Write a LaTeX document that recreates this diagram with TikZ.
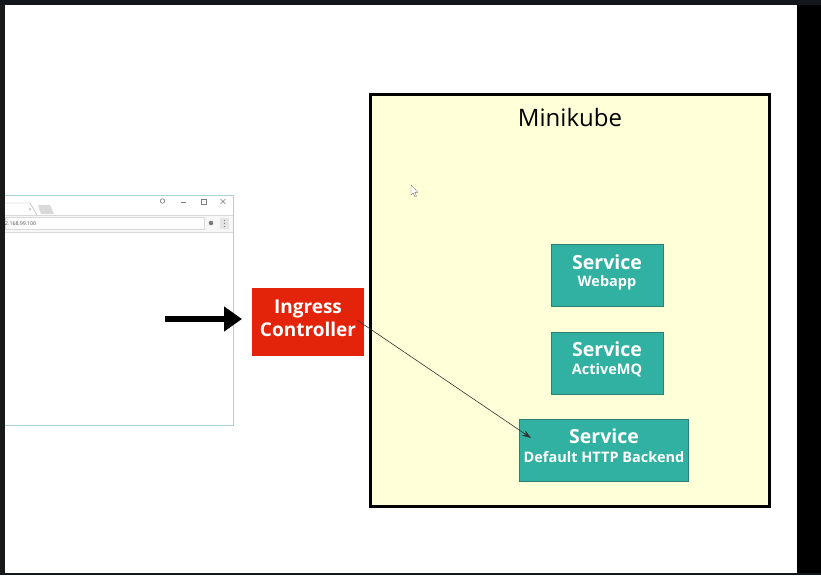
\documentclass[tikz,border=0pt]{standalone}
\usepackage{fontspec}
\setmainfont{Open Sans}
\usetikzlibrary{arrows.meta}
\definecolor{darkbar}{HTML}{13161B}
\definecolor{ingred}{HTML}{E4230B}
\definecolor{svcteal}{HTML}{31B1A1}
\definecolor{svcedge}{HTML}{2B7F74}
\definecolor{kubefill}{HTML}{FFFFD8}
\definecolor{winedge}{HTML}{A9D1D8}
\definecolor{wingrey}{HTML}{D9D9D9}
\definecolor{icongrey}{HTML}{7A7A7A}
\tikzset{
  svcbox/.style={draw=svcedge, line width=0.8pt, fill=svcteal, text=white, align=center, font=\bfseries, inner sep=0pt},
  ingbox/.style={fill=ingred, text=white, align=center, font=\bfseries\fontsize{19}{23}\selectfont, inner sep=0pt, minimum width=112pt, minimum height=68pt},
  kubebox/.style={draw=black, line width=3pt, fill=kubefill, minimum width=399pt, minimum height=411pt, inner sep=0pt},
  bigtxt/.style={font=\fontsize{19.5}{22}\selectfont\bfseries},
  smalltxt/.style={font=\fontsize{14.5}{16}\selectfont\bfseries},
}
\begin{document}
\begin{tikzpicture}[x=1pt,y=-1pt]
\useasboundingbox (0,0) rectangle (821,575);
% screen frame
\fill[white] (0,0) rectangle (821,575);
\fill[darkbar] (0,0) rectangle (821,5);
\fill[black] (797,5) rectangle (821,575);
\fill[black!90] (0,5) rectangle (5,575);
\fill[darkbar] (0,573) rectangle (821,575);

% browser window
\fill[white] (5,195) rectangle (233,425);
\draw[winedge, line width=1pt] (5,195.5) -- (233,195.5) -- (233,425) -- (5,425);
\fill[white!97!black] (5,215) rectangle (233,232);
\fill[white] (5,203) -- (30,203) -- (37,215) -- (5,215) -- cycle;
\draw[wingrey!80!black, line width=0.4pt] (5,203) -- (30,203) -- (37,215);
\fill[wingrey] (38,205) -- (50,205) -- (54,214) -- (41,214) -- cycle;
\node[text=icongrey, font=\fontsize{5}{5}\selectfont, inner sep=0pt] (tabx) at (30,210) {×};
\draw[wingrey, line width=0.5pt] (5,215.5) -- (233,215.5);
\draw[wingrey, fill=white, line width=0.5pt] (5,217.5) rectangle (204,229.5);
\node[anchor=west, text=black!70, font=\fontsize{5.2}{6}\selectfont, inner sep=0pt] (url) at (5,223.5) {2.168.99.100};
\fill[icongrey] (211,223) circle (2.3pt);
\fill[white!90!black] (220,218) rectangle (229,229);
\fill[icongrey] (224.5,220.5) circle (0.6pt) (224.5,223.5) circle (0.6pt) (224.5,226.5) circle (0.6pt);
\draw[wingrey, line width=0.5pt] (5,232) -- (233,232);
\draw[icongrey, line width=0.6pt] (162.5,201) circle (2.2pt);
\draw[icongrey, line width=0.6pt] (181,202) -- (186,202);
\draw[icongrey, line width=0.6pt] (201,199) rectangle (206,204);
\draw[icongrey, line width=0.6pt] (220.5,199) -- (225.5,204) (220.5,204) -- (225.5,199);

% Minikube
\node[kubebox] (kube) at (569.5,300.5) {};
\node[font=\fontsize{24}{28}\selectfont] (kubetitle) at (570,118) {Minikube};

% mouse cursor
\draw[icongrey, fill=white, line width=0.4pt, line join=round] (411,185) -- (411,195) -- (413.3,193) -- (415,197) -- (416.5,196.3) -- (414.8,192.4) -- (418,192.4) -- cycle;

% Ingress controller
\node[ingbox] (ing) at (308,322) {};
\node[text=white, align=center, font=\bfseries\fontsize{19}{23}\selectfont, inner sep=0pt] (ingt) at (308,318) {Ingress\\Controller};

% Services
\node[svcbox, minimum width=112pt, minimum height=62pt] (web) at (607,275) {};
\node[bigtxt, text=white, inner sep=0pt] (webt1) at (607,262) {Service};
\node[smalltxt, text=white, inner sep=0pt] (webt2) at (607,283) {Webapp};

\node[svcbox, minimum width=112pt, minimum height=62pt] (amq) at (607,363) {};
\node[bigtxt, text=white, inner sep=0pt] (amqt1) at (607,349) {Service};
\node[smalltxt, text=white, inner sep=0pt] (amqt2) at (607,370) {ActiveMQ};

\node[svcbox, minimum width=169pt, minimum height=62pt] (def) at (603.5,450) {};
\node[bigtxt, text=white, inner sep=0pt] (deft1) at (604,436) {Service};
\node[smalltxt, text=white, inner sep=0pt] (deft2) at (604,457) {Default HTTP Backend};

% arrows
\coordinate (bigstart) at (165,319);
\coordinate (bigend) at (242,319);
\draw[line width=6.5pt, -{Triangle[length=18pt,width=24pt]}] (bigstart) -- (bigend);
\coordinate (thinstart) at (357,320);
\coordinate (thinend) at (531,438);
\draw[line width=0.6pt, black!80, -{Stealth[length=9pt,width=6pt]}] (thinstart) -- (thinend);
\end{tikzpicture}
\end{document}
